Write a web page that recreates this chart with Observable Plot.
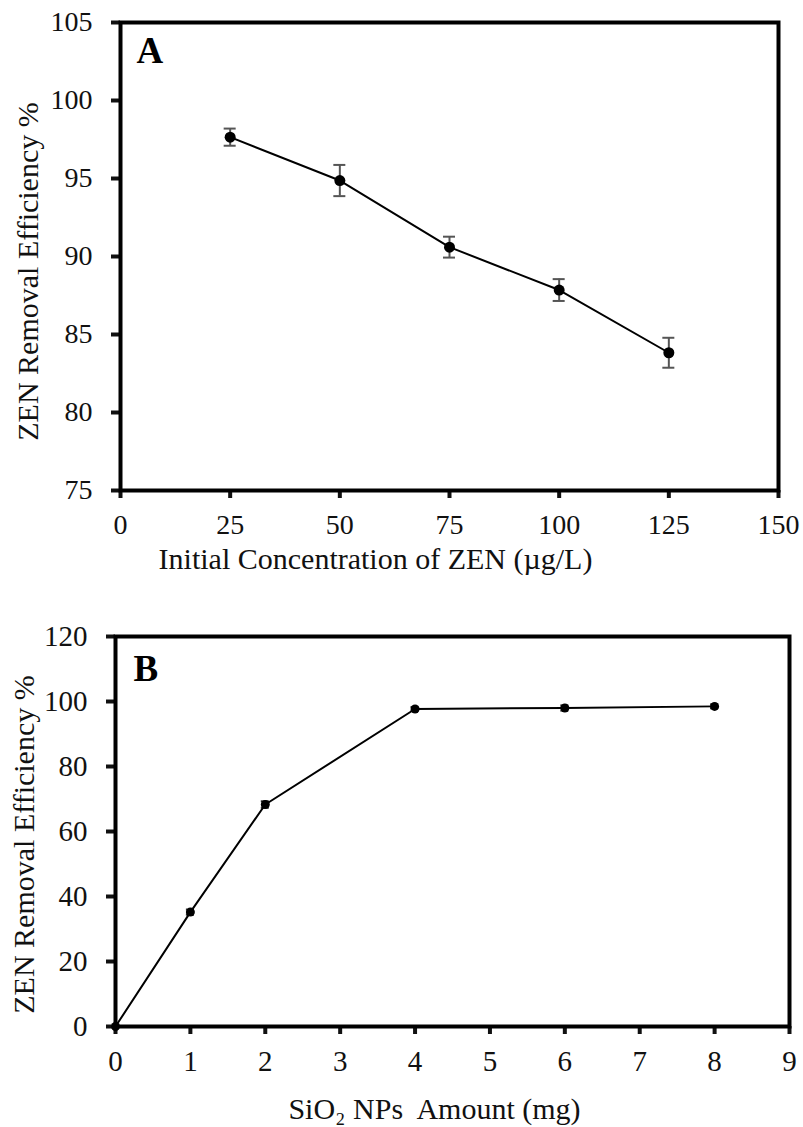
<!DOCTYPE html>
<html>
<head>
<meta charset="utf-8">
<script src="https://cdn.jsdelivr.net/npm/d3@7"></script>
<script src="https://cdn.jsdelivr.net/npm/@observablehq/plot@0.6"></script>
<style>
  html, body { margin: 0; padding: 0; background: #fff; }
  svg { display: block; }
</style>
</head>
<body>
<div id="chart"></div>
<script>
// Panel A: initial concentration of ZEN
const concA = [25, 50, 75, 100, 125];
const effA = [97.65, 94.87, 90.6, 87.85, 83.83];
const errA = [0.55, 1.0, 0.67, 0.7, 0.96];
const xTicksA = [0, 25, 50, 75, 100, 125, 150];
const yTicksA = [75, 80, 85, 90, 95, 100, 105];

// Panel B: SiO2 NPs amount
const amountB = [0, 1, 2, 4, 6, 8];
const effB = [0, 35.2, 68.3, 97.7, 98.0, 98.5];
const errB = [0, 0.8, 1.0, 0.6, 0.8, 0.6];
const xTicksB = [0, 1, 2, 3, 4, 5, 6, 7, 8, 9];
const yTicksB = [0, 20, 40, 60, 80, 100, 120];

const yLabel = "ZEN Removal Efficiency %";
const xLabelA = "Initial Concentration of ZEN (\u00b5g/L)";
const xLabelB = "SiO\u2082 NPs\u00a0 Amount (mg)";

const dataA = concA.map((x, i) => ({x, y: effA[i], lo: effA[i] - errA[i], hi: effA[i] + errA[i]}));
const dataB = amountB.map((x, i) => ({x, y: effB[i], lo: effB[i] - errB[i], hi: effB[i] + errB[i]}));

const font = "'Liberation Serif', 'Times New Roman', serif";

function panel({data, xDomain, yDomain, xTicks, yTicks, height, margins, letter, letterPos, xLabel, xLabelPos, yLabelPos, tickFont, labelFont, dotR, errColor, capInset}) {
  return Plot.plot({
    width: 803,
    height,
    marginLeft: margins[0],
    marginRight: margins[1],
    marginTop: margins[2],
    marginBottom: margins[3],
    style: {fontFamily: font, color: "#111", background: "#fff"},
    x: {domain: xDomain},
    y: {domain: yDomain},
    marks: [
      Plot.axisX({ticks: xTicks, tickSize: 8, tickPadding: 16, strokeWidth: 4, fontSize: tickFont, label: null, tickFormat: d => String(d)}),
      Plot.axisY({ticks: yTicks, tickSize: 9, tickPadding: 19, strokeWidth: 4, fontSize: tickFont, label: null, tickFormat: d => String(d)}),
      Plot.ruleX(data, {x: "x", y1: "lo", y2: "hi", stroke: errColor, strokeWidth: 2}),
      Plot.ruleY(data, {y: "lo", x1: "x", x2: "x", insetLeft: -capInset, insetRight: -capInset, stroke: errColor, strokeWidth: 2}),
      Plot.ruleY(data, {y: "hi", x1: "x", x2: "x", insetLeft: -capInset, insetRight: -capInset, stroke: errColor, strokeWidth: 2}),
      Plot.line(data, {x: "x", y: "y", stroke: "#000", strokeWidth: 2}),
      Plot.dot(data, {x: "x", y: "y", r: dotR, fill: "#000", stroke: "none"}),
      Plot.frame({stroke: "#000", strokeWidth: 4}),
      Plot.text([letter], {frameAnchor: "top-left", dx: letterPos[0], dy: letterPos[1], textAnchor: "start", lineAnchor: "bottom", fontSize: 37, fontWeight: "bold", fill: "#000"}),
      Plot.text([xLabel], {frameAnchor: "bottom", dx: xLabelPos[0], dy: xLabelPos[1], textAnchor: "middle", lineAnchor: "bottom", fontSize: labelFont, fill: "#111"}),
      Plot.text([yLabel], {frameAnchor: "left", dx: yLabelPos[0], dy: yLabelPos[1], rotate: -90, textAnchor: "middle", lineAnchor: "bottom", fontSize: labelFont, fill: "#111"})
    ]
  });
}

const chart = document.getElementById("chart");
chart.appendChild(panel({
  data: dataA, xDomain: [0, 150], yDomain: [75, 105], xTicks: xTicksA, yTicks: yTicksA,
  height: 580, margins: [120, 25, 22, 90], letter: "A", letterPos: [16, 40],
  xLabel: xLabelA, xLabelPos: [-74, 78], yLabelPos: [-83, 15],
  tickFont: 28, labelFont: 30, dotR: 5.5, errColor: "#555", capInset: 6
}));
chart.appendChild(panel({
  data: dataB, xDomain: [0, 9], yDomain: [0, 120], xTicks: xTicksB, yTicks: yTicksB,
  height: 547, margins: [115, 14, 56, 101], letter: "B", letterPos: [18, 44],
  xLabel: xLabelB, xLabelPos: [-18, 92], yLabelPos: [-82, 13],
  tickFont: 29, labelFont: 30, dotR: 4.5, errColor: "#333", capInset: 4
}));
</script>
</body>
</html>
